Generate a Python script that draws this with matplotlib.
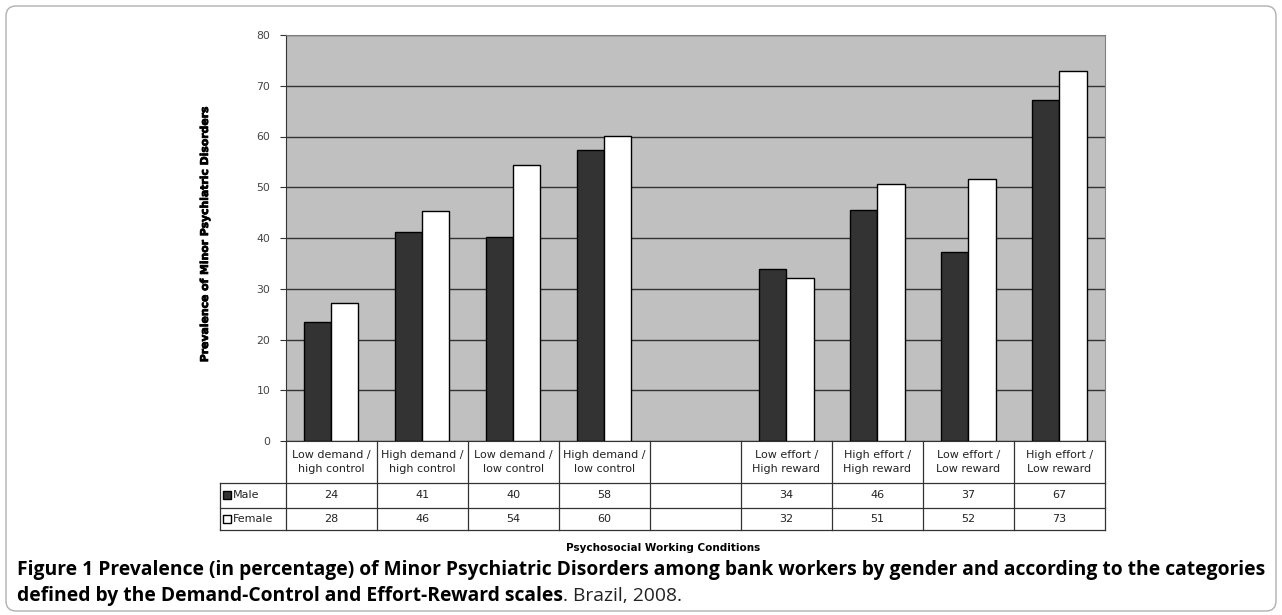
import numpy as np
import matplotlib
matplotlib.use("Agg")
import matplotlib.pyplot as plt
import matplotlib.patheffects as pe
from matplotlib.patches import FancyBboxPatch

# data
categories = ["Low demand /\nhigh control", "High demand /\nhigh control",
              "Low demand /\nlow control", "High demand /\nlow control", "",
              "Low effort /\nHigh reward", "High effort /\nHigh reward",
              "Low effort /\nLow reward", "High effort /\nLow reward"]
male = [23.4, 41.1, 40.2, 57.4, np.nan, 33.8, 45.5, 37.2, 67.2]
female = [27.2, 45.3, 54.3, 60.1, np.nan, 32.1, 50.6, 51.6, 72.9]
male_table = ["24", "41", "40", "58", "", "34", "46", "37", "67"]
female_table = ["28", "46", "54", "60", "", "32", "51", "52", "73"]
yticks = [0, 10, 20, 30, 40, 50, 60, 70, 80]

W, H = 1282, 615
fig = plt.figure(figsize=(W / 100, H / 100), dpi=100)

# overlay in pixel units for the frame and caption
bg = fig.add_axes([0, 0, 1, 1], zorder=0)
bg.set_xlim(0, W)
bg.set_ylim(H, 0)
bg.axis("off")
bg.add_patch(FancyBboxPatch((6, 6), W - 12, H - 10, boxstyle="round,pad=0,rounding_size=10",
                            fc="white", ec="#b0b0b0", lw=1))

ax = fig.add_axes([285.7 / W, 1 - 441 / H, (1105 - 285.7) / W, (441 - 35) / H], zorder=1)
ax.set_facecolor("#c0c0c0")
x = np.arange(len(categories))
bw = 0.298
ax.bar(x - bw / 2, male, bw, color="#333333", edgecolor="black", lw=1, zorder=3)
ax.bar(x + bw / 2, female, bw, color="white", edgecolor="black", lw=1, zorder=3)
ax.set_xlim(-0.5, len(categories) - 0.5)
ax.set_ylim(0, 80)
ax.set_yticks(yticks)
ax.set_yticklabels([str(v) for v in yticks], fontsize=7.8, color="#444444")
ax.tick_params(axis="y", length=4, width=0.8, color="#333333", pad=7)
ax.set_xticks([])
ax.yaxis.grid(True, color="#333333", lw=1, zorder=1)
ax.set_axisbelow(True)
for s in ["top", "right"]:
    ax.spines[s].set_color("#808080")
ax.spines["left"].set_color("#333333")
ax.spines["bottom"].set_color("#333333")

# data table under the plot
tr = ax.get_xaxis_transform()
n = len(categories)
r1, r2, r3 = -0.1034, -0.165, -0.219
left = -0.5 - (285.7 - 220) / 90.7
lc = "#333333"
fs = 8
kw = dict(transform=tr, clip_on=False, color=lc, lw=0.9)
for i in range(n + 1):
    ax.plot([i - 0.5, i - 0.5], [0, r3], **kw)
for yy in [r1, r2, r3]:
    ax.plot([left, n - 0.5], [yy, yy], **kw)
ax.plot([left, left], [r1, r3], **kw)
for i in range(n):
    ax.text(i, r1 / 2, categories[i], transform=tr, ha="center", va="center",
            fontsize=fs, color="#222222", linespacing=1.45)
    ax.text(i, (r1 + r2) / 2, male_table[i], transform=tr, ha="center", va="center",
            fontsize=fs, color="#222222")
    ax.text(i, (r2 + r3) / 2, female_table[i], transform=tr, ha="center", va="center",
            fontsize=fs, color="#222222")
ax.plot([left + 0.08], [(r1 + r2) / 2], marker="s", ms=5.5, mfc="#333333", mec="black",
        transform=tr, clip_on=False)
ax.plot([left + 0.08], [(r2 + r3) / 2], marker="s", ms=5.5, mfc="white", mec="black",
        transform=tr, clip_on=False)
ax.text(left + 0.14, (r1 + r2) / 2, "Male", transform=tr, va="center", fontsize=fs, color="#222222")
ax.text(left + 0.14, (r2 + r3) / 2, "Female", transform=tr, va="center", fontsize=fs, color="#222222")

heavy = [pe.withStroke(linewidth=0.5, foreground="black")]
fig.text(663 / W, 1 - 548 / H, "Psychosocial Working Conditions", ha="center", va="center",
         fontsize=7.5, fontweight="bold")
fig.text(205 / W, 1 - 234 / H, "Prevalence of Minor Psychiatric Disorders", ha="center", va="center",
         rotation=90, fontsize=7.8, fontweight="bold", path_effects=heavy)

# caption
cap1 = ("Figure 1 Prevalence (in percentage) of Minor Psychiatric Disorders among bank workers "
        "by gender and according to the categories")
cap2 = "defined by the Demand-Control and Effort-Reward scales"
cap3 = ". Brazil, 2008."
ff = "Open Sans"
cs = 13.9
bg.text(17, 575, cap1, fontsize=cs, fontweight="bold", family=ff, va="baseline")
t2 = bg.text(17, 601, cap2, fontsize=cs, fontweight="bold", family=ff, va="baseline")
fig.canvas.draw()
bb = t2.get_window_extent()
bg.text(bb.x1, 601, cap3, fontsize=cs, family=["Liberation Sans Narrow", "Open Sans"],
        color="#222222", va="baseline")

fig.savefig("out.png", dpi=100)
